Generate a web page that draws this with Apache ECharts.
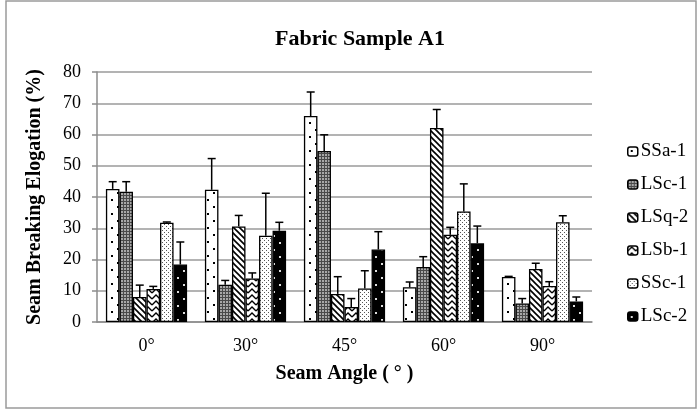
<!DOCTYPE html>
<html>
<head>
<meta charset="utf-8">
<script src="https://cdn.jsdelivr.net/npm/echarts@6/dist/echarts.min.js"></script>
<style>
  html, body { margin: 0; padding: 0; background: #fff; }
  #chart { width: 699px; height: 410px; }
</style>
</head>
<body>
<div id="chart"></div>
<script>
// categories and series
const categories = ['0°', '30°', '45°', '60°', '90°'];
const seriesNames = ['SSa-1', 'LSc-1', 'LSq-2', 'LSb-1', 'SSc-1', 'LSc-2'];

const ssa1 = [42.6, 42.3, 65.9, 11.1, 14.4];
const lsc1 = [41.7, 11.9, 54.7, 17.6, 5.9];
const lsq2 = [8.0, 30.6, 9.0, 62.1, 17.0];
const lsb1 = [10.6, 13.9, 4.8, 27.9, 11.5];
const ssc1 = [31.8, 27.6, 10.7, 35.4, 31.9];
const lsc2 = [18.4, 29.2, 23.2, 25.2, 6.6];

// upper error bar size
const ssa1Err = [2.3, 10.0, 7.7, 1.7, 0.2];
const lsc1Err = [3.2, 1.4, 5.2, 3.3, 1.6];
const lsq2Err = [3.8, 3.5, 5.5, 5.9, 1.8];
const lsb1Err = [0.8, 1.8, 2.7, 2.4, 1.4];
const ssc1Err = [0.2, 13.6, 5.7, 8.8, 2.1];
const lsc2Err = [7.2, 2.7, 5.7, 5.5, 1.4];

const yTicks = { min: 0, max: 80, interval: 10 };

const values = [ssa1, lsc1, lsq2, lsb1, ssc1, lsc2];
const errors = [ssa1Err, lsc1Err, lsq2Err, lsb1Err, ssc1Err, lsc2Err];

// fill patterns, drawn on small canvases
function makePattern(w, h, draw) {
    const c = document.createElement('canvas');
    c.width = w;
    c.height = h;
    const ctx = c.getContext('2d');
    draw(ctx, w, h);
    return { image: c, repeat: 'repeat' };
}

const patterns = [
    // sparse dots on white
    makePattern(12, 14, (ctx) => {
        ctx.fillStyle = '#fff'; ctx.fillRect(0, 0, 12, 14);
        ctx.fillStyle = '#000';
        ctx.fillRect(3, 3, 2, 2);
        ctx.fillRect(9, 10, 2, 2);
    }),
    // gray grid
    makePattern(3, 3, (ctx) => {
        ctx.fillStyle = '#a8a8a8'; ctx.fillRect(0, 0, 3, 3);
        ctx.fillStyle = '#4a4a4a';
        ctx.fillRect(0, 0, 3, 1);
        ctx.fillRect(0, 0, 1, 3);
    }),
    // diagonal stripes
    makePattern(6, 6, (ctx) => {
        ctx.fillStyle = '#fff'; ctx.fillRect(0, 0, 6, 6);
        ctx.strokeStyle = '#000'; ctx.lineWidth = 1.6;
        ctx.beginPath();
        ctx.moveTo(-1, -1); ctx.lineTo(7, 7);
        ctx.moveTo(-4, 2); ctx.lineTo(4, 10);
        ctx.moveTo(2, -4); ctx.lineTo(10, 4);
        ctx.stroke();
    }),
    // zigzag
    makePattern(8, 6, (ctx) => {
        ctx.fillStyle = '#fff'; ctx.fillRect(0, 0, 8, 6);
        ctx.strokeStyle = '#000'; ctx.lineWidth = 1.3;
        ctx.beginPath();
        ctx.moveTo(0, 5); ctx.lineTo(4, 1); ctx.lineTo(8, 5);
        ctx.stroke();
    }),
    // dense dots
    makePattern(4, 4, (ctx) => {
        ctx.fillStyle = '#fff'; ctx.fillRect(0, 0, 4, 4);
        ctx.fillStyle = '#555';
        ctx.fillRect(0, 0, 1, 1);
        ctx.fillRect(2, 2, 1, 1);
    }),
    // black with white dots
    makePattern(12, 14, (ctx) => {
        ctx.fillStyle = '#000'; ctx.fillRect(0, 0, 12, 14);
        ctx.fillStyle = '#ddd';
        ctx.fillRect(3, 4, 2, 2);
        ctx.fillRect(9, 11, 2, 2);
    })
];

const catGapRatio = 0.18;

const barSeries = seriesNames.map((name, i) => ({
    name: name,
    type: 'bar',
    data: values[i],
    barGap: '0%',
    barCategoryGap: (catGapRatio * 100) + '%',
    itemStyle: {
        color: patterns[i],
        borderColor: '#000',
        borderWidth: 1.3
    },
    emphasis: { disabled: true }
}));

// error bar data: [category, upper, seriesIndex, value]
const errData = [];
values.forEach((vals, s) => {
    vals.forEach((v, c) => {
        errData.push([c, v + errors[s][c], s, v]);
    });
});

const errorSeries = {
    type: 'custom',
    name: 'error',
    data: errData,
    encode: { x: 0, y: 1 },
    z: 5,
    renderItem: function (params, api) {
        const cat = api.value(0);
        const s = api.value(2);
        const top = api.coord([cat, api.value(1)]);
        const base = api.coord([cat, api.value(3)]);
        const band = api.size([1, 0])[0];
        const region = band * (1 - catGapRatio);
        const barW = region / seriesNames.length;
        const x = top[0] - region / 2 + (s + 0.5) * barW;
        const cap = 4;
        return {
            type: 'group',
            children: [
                { type: 'line', shape: { x1: x, y1: base[1], x2: x, y2: top[1] },
                  style: { stroke: '#000', lineWidth: 1.5 } },
                { type: 'line', shape: { x1: x - cap, y1: top[1], x2: x + cap, y2: top[1] },
                  style: { stroke: '#000', lineWidth: 1.5 } }
            ]
        };
    }
};

const chart = echarts.init(document.getElementById('chart'));
const serif = '"Liberation Serif", "Times New Roman", serif';

chart.setOption({
    animation: false,
    backgroundColor: '#fff',
    textStyle: { fontFamily: serif },
    title: {
        text: 'Fabric Sample A1',
        left: 355,
        textAlign: 'center',
        top: 23,
        textStyle: { fontFamily: serif, fontSize: 22, fontWeight: 'bold', color: '#000' }
    },
    graphic: [{
        type: 'rect',
        shape: { x: 6, y: 1, width: 690, height: 407 },
        style: { fill: 'none', stroke: '#9a9a9a', lineWidth: 1.5 },
        silent: true
    }],
    legend: {
        data: seriesNames,
        orient: 'vertical',
        left: 622,
        top: 137,
        itemWidth: 10,
        itemHeight: 9,
        itemGap: 14,
        textStyle: { fontFamily: serif, fontSize: 19, color: '#000', lineHeight: 16, padding: [0, 0, 0, -2] },
        itemStyle: { borderColor: '#000', borderWidth: 1.5 }
    },
    grid: { left: 97, right: 107, top: 72, bottom: 88 },
    xAxis: {
        type: 'category',
        data: categories,
        name: 'Seam Angle ( ° )',
        nameLocation: 'middle',
        nameGap: 42,
        nameTextStyle: { fontFamily: serif, fontSize: 20, fontWeight: 'bold', color: '#000' },
        axisLine: { lineStyle: { color: '#8c8c8c', width: 1.5 } },
        axisTick: { show: false },
        axisLabel: { margin: 15, fontFamily: serif, fontSize: 18, color: '#000' }
    },
    yAxis: {
        type: 'value',
        min: yTicks.min,
        max: yTicks.max,
        interval: yTicks.interval,
        name: 'Seam Breaking Elogation (%)',
        nameLocation: 'middle',
        nameGap: 52,
        nameTextStyle: { fontFamily: serif, fontSize: 20, fontWeight: 'bold', color: '#000' },
        axisLine: { show: true, lineStyle: { color: '#8c8c8c', width: 1.5 } },
        axisTick: { show: true, length: 5, lineStyle: { color: '#8c8c8c', width: 1.5 } },
        splitLine: { lineStyle: { color: '#9a9a9a', width: 1.5 } },
        axisLabel: { margin: 16, fontFamily: serif, fontSize: 18, color: '#000' }
    },
    series: barSeries.concat([errorSeries])
});
</script>
</body>
</html>
